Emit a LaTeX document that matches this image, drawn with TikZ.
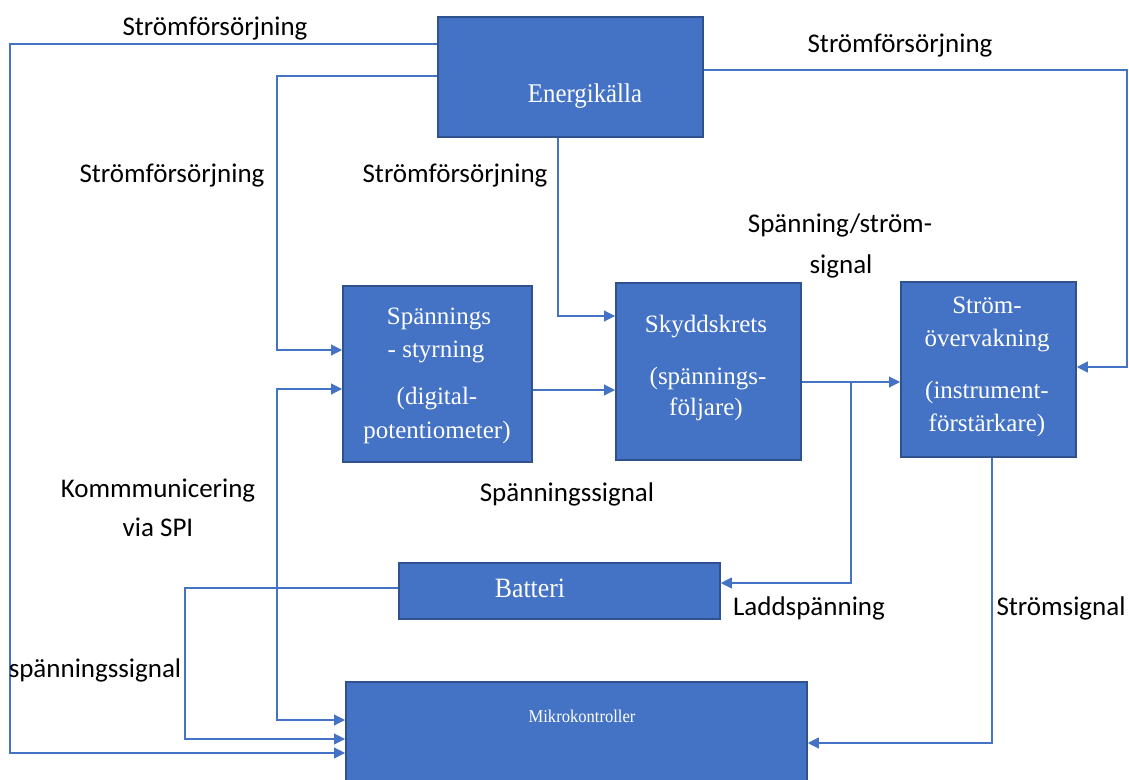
\documentclass[tikz,border=0pt]{standalone}
\usepackage{fontspec}
\setmainfont{Liberation Serif}
\newfontfamily\lblfont{Carlito}
\newfontfamily\condfont[FakeStretch=0.92]{Liberation Serif}
\usetikzlibrary{arrows.meta}
\definecolor{boxfill}{HTML}{4472C4}
\definecolor{boxedge}{HTML}{2F528F}
\definecolor{wire}{HTML}{4472C4}
\begin{document}
\begin{tikzpicture}[x=1pt,y=-1pt,
  box/.style={draw=boxedge, line width=1.8pt, fill=boxfill, inner sep=0pt, anchor=north west},
  btext/.style={text=white, font=\fontsize{25}{33}\selectfont, inner sep=0pt, anchor=base},
  lbl/.style={font=\lblfont\fontsize{27}{33}\selectfont, inner sep=0pt, anchor=base},
  wireline/.style={draw=wire, line width=1.1pt},
  arr/.style={-{Triangle[length=11pt,width=11pt]}},
  darr/.style={{Triangle[length=11pt,width=11pt]}-{Triangle[length=11pt,width=11pt]}}
]
\useasboundingbox (0,0) rectangle (1129,779);
\fill[white] (0,0) rectangle (1129,779);

% boxes
\node[box, minimum width=265pt, minimum height=120pt] (en) at (437,16) {};
\node[box, minimum width=189pt, minimum height=176pt] (sp) at (342,285) {};
\node[box, minimum width=185pt, minimum height=177pt] (sk) at (615,282) {};
\node[box, minimum width=175pt, minimum height=175pt] (st) at (900,281) {};
\node[box, minimum width=321pt, minimum height=56pt] (bat) at (398,562) {};
\node[box, minimum width=461pt, minimum height=130pt] (mik) at (345,681) {};

% box texts
\node[btext, font=\condfont\fontsize{27}{30}\selectfont] (ten) at (585,102) {Energikälla};
\node[btext] (tsp1) at (439,324) {Spännings};
\node[btext] (tsp2) at (436,357) {- styrning};
\node[btext] (tsp3) at (437,404) {(digital-};
\node[btext] (tsp4) at (437,438) {potentiometer)};
\node[btext] (tsk1) at (706,332) {Skyddskrets};
\node[btext] (tsk2) at (708,384) {(spännings-};
\node[btext] (tsk3) at (706,415) {följare)};
\node[btext] (tst1) at (987,313) {Ström-};
\node[btext] (tst2) at (987,346) {övervakning};
\node[btext] (tst3) at (987,398) {(instrument-};
\node[btext] (tst4) at (987,431) {förstärkare)};
\node[btext, font=\condfont\fontsize{28}{30}\selectfont] (tbat) at (530,597) {Batteri};
\node[btext, font=\condfont\fontsize{18}{20}\selectfont] (tmik) at (582,722) {Mikrokontroller};

% connectors
\coordinate (br) at (851,382);
\draw[wireline,arr] (en.west |- 0,44) -- (10,44) -- (10,753) -- (mik.west |- 0,753);
\draw[wireline,arr] (en.west |- 0,76) -- (277,76) -- (277,350) -- (sp.west |- 0,350);
\draw[wireline,arr] (en.south -| 558,0) -- (558,316) -- (sk.west |- 0,316);
\draw[wireline,arr] (en.east |- 0,70) -- (1127,70) -- (1127,367) -- (st.east |- 0,367);
\draw[wireline,arr] (sp.east |- 0,390) -- (sk.west |- 0,390);
\draw[wireline,arr] (sk.east |- 0,382) -- (st.west |- 0,382);
\draw[wireline,arr] (br) -- (851,583) -- (bat.east |- 0,583);
\draw[wireline,arr] (st.south -| 992,0) -- (992,743) -- (mik.east |- 0,743);
\draw[wireline,darr] (sp.west |- 0,389) -- (277,389) -- (277,720) -- (mik.west |- 0,720);
\draw[wireline,arr] (bat.west |- 0,588) -- (185,588) -- (185,739) -- (mik.west |- 0,739);

% labels
\node[lbl] (l1) at (215,35) {Strömförsörjning};
\node[lbl] (l2) at (900,52) {Strömförsörjning};
\node[lbl] (l3) at (172,182) {Strömförsörjning};
\node[lbl] (l4) at (455,182) {Strömförsörjning};
\node[lbl] (l5a) at (840,232) {Spänning/ström-};
\node[lbl] (l5b) at (841,273) {signal};
\node[lbl] (l6) at (567,501) {Spänningssignal};
\node[lbl] (l7a) at (158,497) {Kommmunicering};
\node[lbl] (l7b) at (158,536) {via SPI};
\node[lbl] (l8) at (95,677) {spänningssignal};
\node[lbl] (l9) at (809,615) {Laddspänning};
\node[lbl] (l10) at (1061,615) {Strömsignal};
\end{tikzpicture}
\end{document}
